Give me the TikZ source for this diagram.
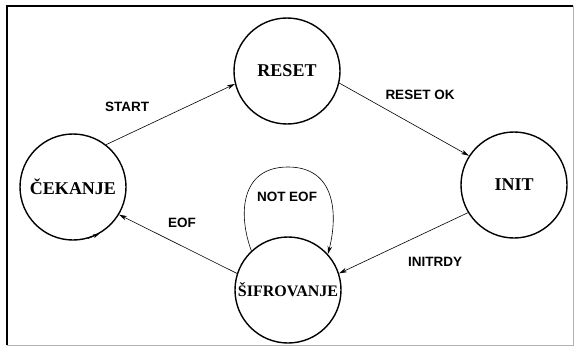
\documentclass[tikz,border=0pt]{standalone}
\usepackage{fontspec}
\setmainfont{Liberation Serif}
\newfontfamily\labelfont{Liberation Sans}
\usetikzlibrary{arrows.meta}

\tikzset{
  state/.style={circle, draw, line width=1.4pt, minimum size=106pt, inner sep=0pt,
                font=\fontsize{18}{20}\selectfont\bfseries},
  trans/.style={line width=0.6pt, -{Stealth[length=8pt,width=4.5pt]}},
  translabel/.style={font=\labelfont\fontsize{13.5}{15}\selectfont\bfseries},
}

\begin{document}
\begin{tikzpicture}[x=1pt, y=-1pt]
  % canvas and frame
  \useasboundingbox (0,0) rectangle (580,353);
  \fill[white] (0,0) rectangle (580,353);
  \draw[gray!60, line width=0.6pt] (573,6) -- (573,345) -- (7,345);
  \draw[line width=1.3pt] (7,345) -- (7,6) -- (573,6);

  % states
  \node[state] (cek)   at (73,187)  {ČEKANJE};
  \node[state] (reset) at (287,71)  {RESET};
  \node[state] (init)  at (514,185) {INIT};
  \node[state, font=\fontsize{16}{18}\selectfont\bfseries] (sif) at (288,290) {ŠIFROVANJE};

  % transitions
  \draw[trans] (cek.52)    -- (reset.194);
  \draw[trans] (reset.-13) -- (init.147);
  \draw[trans] (init.211)  -- (sif.18);
  \draw[trans] (sif.162)   -- (cek.-31);
  \draw[trans] (sif.133) .. controls (238,215) and (240,167) .. (288,167)
                         .. controls (336,167) and (338,215) .. (sif.42);

  % small tip on the waiting state
  \draw[line width=0.6pt, -{Stealth[length=6pt,width=4pt]}] (cek.-74) -- (cek.-61);

  % transition labels
  \node[translabel] (lstart)   at (127,107) {START};
  \node[translabel] (lresetok) at (420,95)  {RESET OK};
  \node[translabel] (linitrdy) at (435,262) {INITRDY};
  \node[translabel] (leof)     at (182,223) {EOF};
  \node[translabel] (lnoteof)  at (287,197) {NOT EOF};
\end{tikzpicture}
\end{document}
